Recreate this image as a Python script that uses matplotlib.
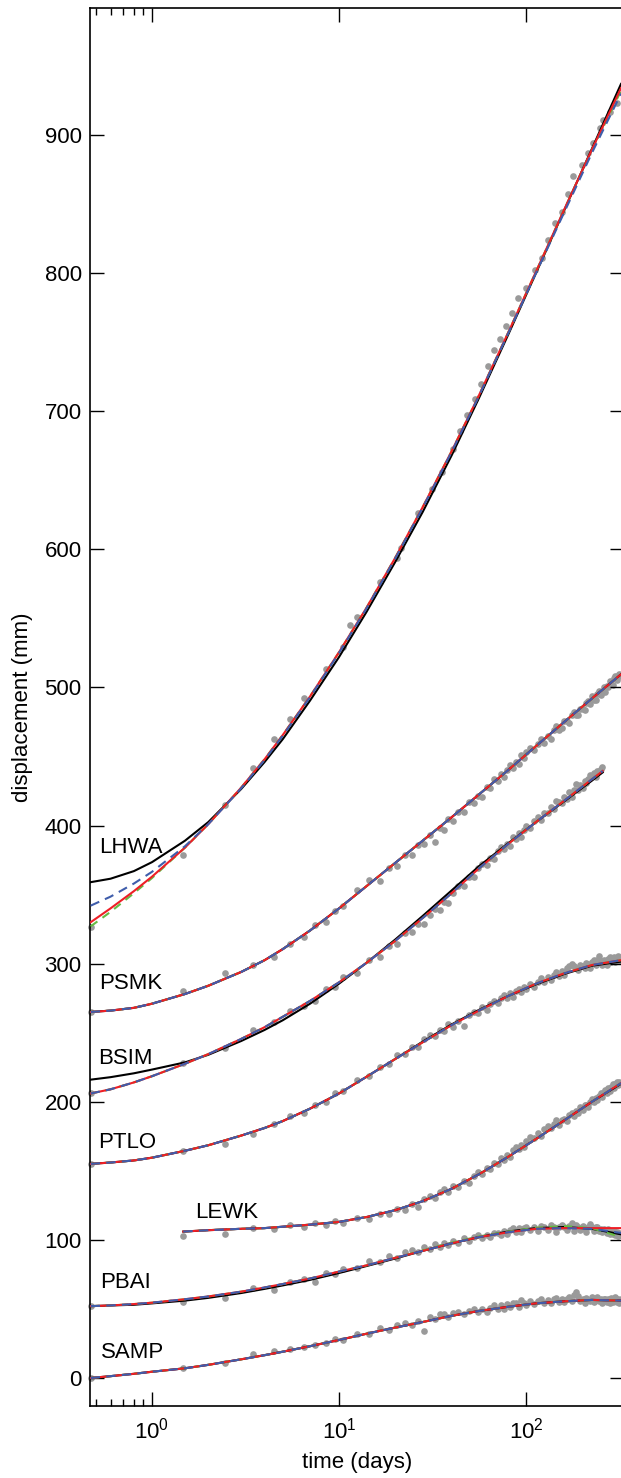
import matplotlib.pyplot as plt
import matplotlib.ticker as ticker

plt.rcParams['font.family'] = ['Liberation Sans', 'DejaVu Sans']

GREY = '#9a9a9a'
RED = '#ee1f26'
BLUE = '#3f5dab'
GREEN = '#66bb44'

# observation epochs (days after the event)
DAYS = [0.47, 1.47, 2.47, 3.47, 4.47, 5.47, 6.47, 7.47, 8.47, 9.47, 10.47,
        12.47, 14.47, 16.47, 18.47, 20.47, 22.47, 24.47, 26.47, 28.47, 30.47,
        32.47, 34.47, 36.47, 38.47, 40.47,
        43.47, 46.47, 49.47, 52.47, 55.47, 58.47, 61.47, 64.47, 67.47, 70.47,
        73.47, 76.47, 79.47, 82.47, 85.47, 88.47, 91.47, 94.47, 97.47, 100.47,
        105.47, 110.47, 115.47, 120.47, 125.47, 130.47, 135.47, 140.47, 145.47,
        150.47, 155.47, 160.47, 165.47, 170.47, 175.47, 180.47, 185.47, 190.47,
        195.47, 200.47, 205.47, 210.47, 215.47, 220.47, 225.47, 230.47, 235.47,
        240.47, 245.47, 250.47, 255.47, 260.47, 265.47, 270.47, 275.47, 280.47,
        285.47, 290.47, 295.47, 300.47, 305.47, 310.47, 315.47, 320.47]

LHWA_DAYS = [0.47, 1.47, 2.47, 3.47, 4.47, 5.47, 6.47, 8.47, 10.47, 11.47,
             12.47, 16.47, 20.47, 21.47, 26.47, 31.47, 35.47, 40.47, 44.47, 48.47,
             53.47, 57.47, 62.47, 67.47, 72.47, 78.47, 84.47, 90.47, 100.47, 111.47,
             121.47, 131.47, 143.47, 156.47, 168.47, 178.47, 199.47, 215.47, 228.47,
             249.47, 258.47, 281.47, 306.47]

# displacement (mm), offset per station
LHWA_OBS = [326.5, 379, 415, 442, 463, 477, 492, 513, 529, 545,
            551, 576, 594, 601, 626, 644, 656, 673, 686, 697,
            709, 720, 733, 744, 752, 762, 771, 782, 789, 802,
            811, 824, 836, 844, 857, 870, 878, 887, 894, 905,
            911, 917, 923]

PSMK_OBS = [265, 280, 293, 299, 305, 314.5, 319, 328, 330, 338, 342,
            353, 360.5, 360, 369, 371, 378.5, 379, 386, 387, 393, 388, 398, 397, 404.5, 403,
            409.5, 409.5, 417, 416.5, 421.5, 420.5, 428, 427, 433.5, 432.5, 437, 435, 440.5,
            443.5, 441.5, 446, 444.5, 451, 449, 453,
            456, 454.5, 459, 462.5, 460, 464.5, 462.5, 469, 472, 469.5,
            470.5, 475.5, 476, 474.5, 480, 482.5, 480, 480, 484.5, 484.5,
            483.5, 489, 490, 488, 494, 491, 491, 495, 497.5, 494.5,
            497, 500, 496.5, 501, 500, 505, 502.5, 502, 506.5, 508,
            505.5, 508, 510, 508]

BSIM_OBS = [206, 228, 239, 252, 258, 266, 269, 273, 281.5, 283, 290,
            293.5, 303, 304.5, 312.5, 314.5, 322.5, 323, 329, 329, 335, 339.5, 339, 344.5, 344, 351,
            356.5, 356.5, 362.5, 362.5, 369, 372.5, 371.5, 376.5, 376, 381.5, 384.5, 383, 387,
            385.5, 391.5, 390, 394.5, 392, 397, 399.5,
            398.5, 403, 406.5, 404, 409, 409, 413.5, 412, 418, 417,
            416, 420.5, 419.5, 424, 420.5, 425.5, 430, 425.5, 429, 427,
            432.5, 430.5, 434, 436.5, 436, 438, 435.5, 439.5, 439.5, 441,
            442.5]

PTLO_OBS = [155, 164, 169.5, 177, 184, 189.5, 191.5, 198, 200, 206.5, 207.5,
            215.5, 218.5, 225.5, 227.5, 234, 234.5, 239.5, 239.5, 245.5, 248.5, 247.5, 252, 251.5, 256, 254,
            258.5, 255, 263, 265, 264, 268.5, 266.5, 270.5, 273, 271.5, 275, 277, 275, 278.5,
            276, 280, 282, 279.5, 283, 281.5,
            285.5, 283, 287, 289.5, 287, 290.5, 288, 291.5, 294, 291,
            294.5, 291.5, 296.5, 298.5, 300, 298.5, 297, 295.5, 299, 298,
            296.5, 300.5, 300, 297, 301, 303, 299, 302.5, 305.5, 302,
            299, 302.5, 302, 299, 303.5, 304.5, 301.5, 303.5, 305, 301.5,
            304, 305.5, 302, 304]

LEWK_OBS = [103, 104, 108.5, 108, 111, 109.5, 112, 111, 113.5, 112,
            116, 115, 119, 118.5, 122.5, 121.5, 126, 124, 129.5, 132, 130.5, 134.5, 137, 135, 139,
            138.5, 142.5, 141.5, 146.5, 149, 148, 152, 151, 156, 155, 159, 158, 161.5, 160,
            165, 167, 165.5, 169, 167.5, 171.5,
            174.5, 173.5, 177.5, 175.5, 180, 182.5, 181, 184, 186.5, 183.5,
            187, 187.5, 186, 190.5, 192, 190, 193, 191.5, 196, 194,
            197.5, 198, 196, 200, 202, 200, 203, 201.5, 204.5, 206,
            203.5, 207, 208.5, 206.5, 210, 208, 211, 212.5, 210, 213,
            214, 212, 214.5, 213.5]

PBAI_OBS = [52, 55, 58, 65, 64, 69.5, 71.5, 69.5, 76, 75.5, 79,
            79.5, 84.5, 84, 88, 87, 91, 92.5, 91, 94.5, 93.5, 97, 95, 98, 96.5, 99.5,
            98, 101, 99, 102, 103.5, 101, 103.5, 102, 105, 105, 103.5, 106.5, 104.5, 107,
            108.5, 105.5, 108.5, 106, 108.5, 109.5,
            107, 109.5, 106.5, 110, 109, 107, 110.5, 109, 106, 109,
            111, 109.5, 107, 110, 112, 106.5, 111, 109, 107, 110,
            108, 106, 109, 111.5, 109, 106.5, 109, 109.5, 106.5, 108,
            105.5, 107.5, 106.5, 105, 107.5, 104.5, 106.5, 104, 106.5, 103.5,
            105.5, 103, 105, 103.5]

SAMP_OBS = [0, 7, 11, 17, 19.5, 21, 22.5, 24, 25, 28, 27.5,
            32, 32, 36, 35, 38, 40, 38.5, 41.5, 34, 44, 42.5, 46.5, 46, 44, 47,
            48, 46, 48.5, 50, 47.5, 50, 48, 51, 52.5, 50, 52.5, 50, 53.5, 51.5,
            54.5, 54, 51.5, 56.5, 54.5, 53,
            55.5, 53.5, 56, 57, 54, 56.5, 54, 57, 58, 55,
            57.5, 55, 57, 58.5, 55.5, 60, 62, 59, 55.5, 57.5,
            54.5, 58, 56.5, 55.5, 58.5, 55, 57.5, 58.5, 55.5, 57.5,
            54, 57, 57.5, 55, 57, 54.5, 58, 55, 57, 58.5,
            55, 57, 54, 57]

# model curves evaluated at these epochs
FIT_DAYS = [0.47, 0.6, 0.8, 1, 1.5, 2, 3, 4, 5, 7, 10, 14, 20, 28, 40, 56, 80, 113, 160, 225, 322]
BSIM_FIT_DAYS = [0.47, 0.6, 0.8, 1, 1.5, 2, 3, 4, 5, 7, 10, 14, 20, 28, 40, 56, 80, 113, 160, 225, 257]
LEWK_FIT_DAYS = [1.47, 2, 3, 4, 5, 7, 10, 14, 20, 28, 40, 56, 80, 113, 160, 225, 322]

LHWA_BLACK = [359, 361.5, 367, 373.5, 389, 402.5, 426.5, 446, 462.5, 490.5, 522, 554.5, 591, 627, 668, 709.5, 755, 800, 845.5, 890, 937]
LHWA_RED = [330, 340, 352.5, 363, 384, 401, 427.5, 448, 465.5, 493.5, 525.5, 557.5, 594, 630.5, 671, 711.5, 756.5, 801, 846, 889.5, 934]
LHWA_BLUE = [342, 348.5, 358, 366.5, 385, 401, 427, 447.5, 465, 493, 525, 557, 593.5, 630, 670.5, 711, 756, 800, 844, 887, 930]
LHWA_GREEN = [327, 337.5, 351, 362, 384, 401, 427.5, 448, 465.5, 493.5, 525.5, 557.5, 594, 630.5, 671, 711.5, 756.5, 801, 846, 889, 932]

PSMK_BLACK = [265, 266, 268, 271, 278, 284, 294, 302.5, 310.5, 324, 340, 356, 373, 389, 406, 422.5, 440, 457.5, 475, 492, 509.5]
PSMK_RED = [265, 266, 268, 271, 278, 284, 294, 302.5, 310.5, 324, 340, 356, 373, 389, 406, 422.5, 440, 457.5, 475, 492, 509.5]

BSIM_BLACK = [216, 217.8, 220.6, 223.3, 228.5, 234, 244, 252, 259, 271, 285.5, 300.5, 317.5, 334.5, 353, 370.5, 387, 402.5, 417.5, 432.5, 438.5]
BSIM_RED = [206, 209, 214, 218.5, 227.5, 234.5, 245.5, 254, 261.5, 273, 286.5, 300.5, 316.5, 333, 351, 369, 386.5, 402.5, 418, 433.5, 439.5]

PTLO_BLACK = [155, 156, 157.5, 159.5, 164.5, 168.5, 175.5, 181, 186, 195, 206, 218, 231, 243.5, 256, 266.5, 276.5, 285, 292.5, 298.5, 301.5]
PTLO_RED = [155, 156, 157.5, 159.5, 164.5, 168.5, 175.5, 181, 186, 195, 206, 218, 231, 243, 255.5, 266, 276.5, 285.5, 293, 299, 302.5]

LEWK_BLACK = [106, 107, 108, 108.5, 109.5, 111, 113, 116.5, 121.5, 128, 137, 147.5, 160, 173, 186.5, 200, 213]
LEWK_RED = [106, 107, 108, 108.5, 109.5, 111, 113, 116.5, 121.5, 128, 137, 147.5, 160, 173, 186.5, 200, 213.5]

PBAI_BLACK = [52, 52.5, 53, 54, 56, 58, 61.5, 64.5, 67, 71, 76, 81, 86.5, 92, 97.5, 102, 106, 108.5, 109.3, 108, 104]
PBAI_RED = [52, 52.5, 53.5, 54.5, 57, 59, 62.5, 65.5, 68, 72, 77, 81.5, 87, 92, 97.5, 102, 105.5, 108, 108.5, 108.5, 108.5]
PBAI_BLUE = [52, 52.5, 53.5, 54.5, 57, 59, 62.5, 65.5, 68, 72, 77, 81.5, 87, 92, 97.5, 102, 105.5, 108, 108.5, 108, 105]
PBAI_GREEN = [52, 52.5, 53.5, 54.5, 57, 59, 62.5, 65.5, 68, 72, 77, 81.5, 87, 92.3, 98, 102.5, 106, 108.8, 110, 108.5, 102]

SAMP_BLACK = [0, 1.3, 3, 4.5, 7, 9.5, 13.5, 16.5, 19, 23, 27.5, 32, 36.5, 40.5, 45, 48.5, 51.5, 54, 55.5, 56.5, 56]
SAMP_RED = [0, 1.3, 3, 4.5, 7, 9.5, 13.5, 16.5, 19, 23, 27.5, 32, 36.5, 40.5, 45, 48.5, 51.5, 54, 55.5, 56.5, 56]

# station name, label position (day, mm at baseline)
LABELS = [('LHWA', 0.52, 380), ('PSMK', 0.52, 282), ('BSIM', 0.515, 227),
          ('PTLO', 0.515, 166.5), ('LEWK', 1.70, 116), ('PBAI', 0.53, 65),
          ('SAMP', 0.535, 14.5)]

fig = plt.figure(figsize=(6.21, 14.78), dpi=100)
ax = fig.add_axes([0.1449, 0.049, 0.8599, 0.9456])

# observations
obs = [(LHWA_DAYS, LHWA_OBS), (DAYS, PSMK_OBS), (DAYS[:len(BSIM_OBS)], BSIM_OBS),
       (DAYS, PTLO_OBS), (DAYS[1:], LEWK_OBS), (DAYS, PBAI_OBS), (DAYS, SAMP_OBS)]
for t, d in obs:
    ax.plot(t, d, 'o', ms=4.8, mfc=GREY, mec='none', clip_on=False, zorder=1)

# model fits: black, red, green dashed, blue dashed
fits = [(FIT_DAYS, LHWA_BLACK, LHWA_RED, LHWA_BLUE, LHWA_GREEN),
        (FIT_DAYS, PSMK_BLACK, PSMK_RED, PSMK_RED, PSMK_RED),
        (BSIM_FIT_DAYS, BSIM_BLACK, BSIM_RED, BSIM_RED, BSIM_RED),
        (FIT_DAYS, PTLO_BLACK, PTLO_RED, PTLO_RED, PTLO_RED),
        (LEWK_FIT_DAYS, LEWK_BLACK, LEWK_RED, LEWK_RED, LEWK_RED),
        (FIT_DAYS, PBAI_BLACK, PBAI_RED, PBAI_BLUE, PBAI_GREEN),
        (FIT_DAYS, SAMP_BLACK, SAMP_RED, SAMP_RED, SAMP_RED)]
for t, black, red, blue, green in fits:
    ax.plot(t, black, color='k', lw=1.5, zorder=2)
    ax.plot(t, green, color=GREEN, lw=1.5, dashes=(4, 3), zorder=3)
    ax.plot(t, red, color=RED, lw=1.5, zorder=4)
    ax.plot(t, blue, color=BLUE, lw=1.5, dashes=(4.5, 3), zorder=5)

for name, x, y in LABELS:
    ax.text(x, y, name, fontsize=16, ha='left', va='baseline')

ax.set_xscale('log')
ax.set_xlim(0.466, 334)
ax.set_ylim(-20, 992)
ax.xaxis.set_major_locator(ticker.FixedLocator([1, 10, 100]))
ax.xaxis.set_minor_locator(ticker.FixedLocator([0.5, 0.6, 0.7, 0.8, 0.9]))
ax.xaxis.set_minor_formatter(ticker.NullFormatter())
ax.yaxis.set_major_locator(ticker.MultipleLocator(100))
ax.yaxis.set_minor_locator(ticker.NullLocator())
ax.tick_params(which='both', direction='in', top=True, right=True, width=1.0, labelsize=16)
ax.tick_params(which='major', length=10)
ax.tick_params(which='minor', length=5)
ax.tick_params(axis='y', pad=6)
ax.tick_params(axis='x', pad=9)
for s in ax.spines.values():
    s.set_linewidth(1.2)

ax.set_xlabel('time (days)', fontsize=16, labelpad=6)
ax.set_ylabel('displacement (mm)', fontsize=16)
ax.yaxis.set_label_coords(-0.107, 0.5)

fig.savefig('out.png', dpi=100)
